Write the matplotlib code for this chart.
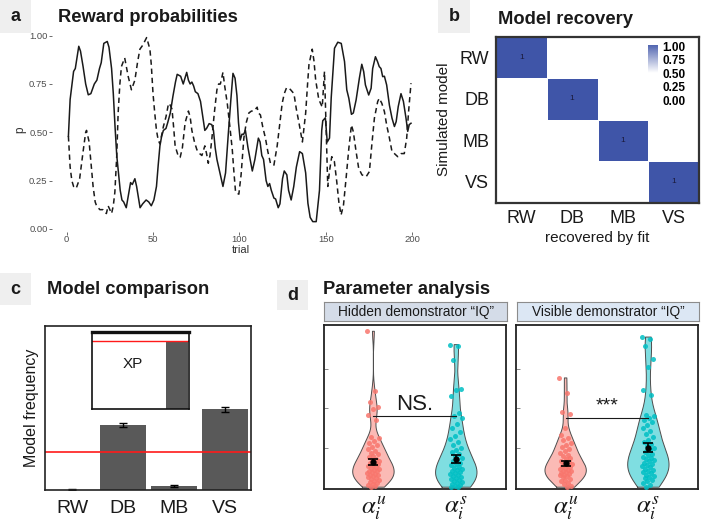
import numpy as np
import matplotlib
matplotlib.use("Agg")
import matplotlib.pyplot as plt
from matplotlib.patches import Rectangle
from matplotlib.colors import LinearSegmentedColormap

plt.rcParams['font.family'] = ['Liberation Sans', 'DejaVu Sans']
plt.rcParams['mathtext.fontset'] = 'stix'

# ---------------- data ----------------
# panel a: reward probabilities
trial_solid = [1, 2, 4, 5, 7, 8, 9.5, 11, 12.5, 14, 16, 17.5, 19, 20, 21.5, 23.5, 24.5, 26, 27, 28, 29, 30, 31, 32, 33, 34.5, 36, 37, 38, 39.5, 40.5, 42.5, 44, 46, 47.5, 49, 50.5, 52, 53, 54, 55, 56, 57.5, 58.5, 60, 61.5, 63, 64, 66, 67.5, 68.5, 69.5, 70.5, 71.5, 72.5, 73.5, 74.5, 76, 77.5, 79, 80, 81, 82.5, 84, 85, 86, 87, 88, 90.5, 92, 93.5, 95, 96.3, 97.5, 98.6, 99.5, 100.5, 101.5, 102.5, 103.5, 105, 107.5, 109, 111, 112, 113, 114, 115.5, 116.5, 117.5, 118.5, 120, 121, 122.5, 123.5, 125, 126, 127.5, 128.5, 130, 131.5, 133, 134.9, 136.5, 138.4, 139.7, 141, 142.5, 144.5, 146.4, 147.7, 148.3, 149.8, 150.9, 152.2, 153.2, 155.1, 157, 159, 160.9, 162.2, 163.4, 164.9, 166, 167.6, 169.5, 170.9, 172, 173, 174.9, 176.3, 177.2, 178.8, 180, 181, 182, 183, 184, 185.3, 186.9, 188.4, 189.8, 190.8, 192, 193.6, 195, 196.5, 197.5, 198.4, 199.4]
p_solid = [0.48, 0.67, 0.815, 0.83, 0.945, 0.92, 0.84, 0.75, 0.694, 0.70, 0.75, 0.77, 0.83, 0.86, 0.96, 0.97, 0.94, 0.83, 0.70, 0.53, 0.38, 0.29, 0.20, 0.15, 0.14, 0.11, 0.19, 0.24, 0.23, 0.26, 0.22, 0.11, 0.13, 0.15, 0.14, 0.12, 0.15, 0.22, 0.33, 0.43, 0.48, 0.51, 0.52, 0.55, 0.60, 0.685, 0.76, 0.80, 0.79, 0.75, 0.78, 0.81, 0.77, 0.75, 0.76, 0.74, 0.71, 0.70, 0.66, 0.57, 0.51, 0.52, 0.545, 0.54, 0.51, 0.42, 0.36, 0.32, 0.22, 0.29, 0.48, 0.66, 0.805, 0.78, 0.69, 0.55, 0.46, 0.49, 0.49, 0.51, 0.42, 0.30, 0.36, 0.47, 0.45, 0.38, 0.36, 0.25, 0.22, 0.235, 0.20, 0.16, 0.155, 0.11, 0.13, 0.26, 0.30, 0.28, 0.20, 0.15, 0.22, 0.32, 0.40, 0.39, 0.29, 0.133, 0.06, 0.038, 0.038, 0.20, 0.51, 0.56, 0.575, 0.45, 0.47, 0.68, 0.935, 0.966, 0.96, 0.866, 0.72, 0.676, 0.593, 0.60, 0.667, 0.78, 0.852, 0.814, 0.745, 0.693, 0.728, 0.83, 0.891, 0.866, 0.84, 0.83, 0.788, 0.79, 0.745, 0.64, 0.573, 0.53, 0.555, 0.633, 0.70, 0.66, 0.573, 0.505, 0.54, 0.547]
trial_dashed = [1, 2, 3, 4, 5.5, 7.5, 8.5, 9.5, 11, 11.5, 13, 14, 15.3, 16.5, 17.3, 19.2, 21, 22, 23, 24, 25, 26, 27, 27.9, 29, 29.8, 30.8, 31.7, 33.6, 35.6, 37.5, 39.5, 41, 42.4, 44, 46.3, 48.2, 49, 50, 51, 52, 53, 54, 56, 57.5, 59, 60, 61, 62, 62.8, 64.5, 65.7, 67, 68.6, 70.5, 71.5, 72.5, 74, 75.4, 77, 78.3, 80, 81, 82, 83, 84, 85.5, 87, 88, 89, 90.5, 91.5, 93, 94.5, 95.9, 96.8, 97.8, 99.7, 101, 102.6, 104, 105.5, 107, 108.4, 110.3, 111, 112.2, 113.5, 115.1, 116.5, 118, 120, 121.9, 123.5, 124.8, 126, 127.3, 128.5, 129.7, 131.6, 133, 134.5, 136.5, 138.4, 139.5, 140.3, 142.2, 143.2, 144.2, 146, 148, 149.3, 150.3, 151.2, 152.2, 153.5, 155, 156.4, 157.6, 158.9, 160.3, 161.8, 163.4, 164.9, 166, 167.6, 169.1, 171, 173.4, 175.3, 176.7, 178.2, 180.1, 181, 182.5, 184, 185.3, 186.9, 188.4, 189.8, 191.7, 193.6, 195.5, 196.9, 198, 199.4]
p_dashed = [0.48, 0.32, 0.25, 0.22, 0.21, 0.26, 0.33, 0.40, 0.50, 0.51, 0.45, 0.35, 0.22, 0.14, 0.12, 0.10, 0.10, 0.09, 0.08, 0.12, 0.10, 0.08, 0.12, 0.19, 0.38, 0.60, 0.75, 0.84, 0.885, 0.79, 0.72, 0.77, 0.86, 0.93, 0.95, 0.99, 0.93, 0.85, 0.70, 0.60, 0.51, 0.46, 0.44, 0.53, 0.58, 0.65, 0.64, 0.62, 0.52, 0.43, 0.38, 0.37, 0.42, 0.55, 0.61, 0.58, 0.51, 0.45, 0.41, 0.39, 0.38, 0.43, 0.39, 0.34, 0.38, 0.46, 0.60, 0.72, 0.75, 0.75, 0.81, 0.74, 0.65, 0.53, 0.41, 0.30, 0.19, 0.18, 0.28, 0.47, 0.55, 0.60, 0.61, 0.61, 0.63, 0.60, 0.59, 0.53, 0.47, 0.40, 0.34, 0.33, 0.43, 0.55, 0.65, 0.70, 0.73, 0.73, 0.72, 0.70, 0.62, 0.55, 0.45, 0.60, 0.75, 0.85, 0.93, 0.87, 0.77, 0.67, 0.63, 0.815, 0.50, 0.22, 0.30, 0.374, 0.35, 0.245, 0.14, 0.072, 0.124, 0.262, 0.417, 0.538, 0.503, 0.40, 0.314, 0.28, 0.27, 0.297, 0.435, 0.573, 0.659, 0.676, 0.65, 0.607, 0.538, 0.47, 0.40, 0.39, 0.374, 0.39, 0.39, 0.47, 0.607, 0.754]

# panel b: model recovery
models = ['RW', 'DB', 'MB', 'VS']
recovery = [[1, 0, 0, 0],
            [0, 1, 0, 0],
            [0, 0, 1, 0],
            [0, 0, 0, 1]]
legend_ticks = [0.00, 0.25, 0.50, 0.75, 1.00]

# panel c: model comparison
model_freq = [0.003, 0.431, 0.026, 0.535]
model_freq_err = [0.003, 0.015, 0.006, 0.015]
chance_level = 0.25
xp = [0.0, 0.01, 0.0, 1.0]
xp_line = 1.0

# panel d: parameter analysis
facets = ['Hidden demonstrator \u201cIQ\u201d', 'Visible demonstrator \u201cIQ\u201d']
param_labels = [r'$\alpha_i^u$', r'$\alpha_i^s$']
hidden_u = [0.787, 0.489, 0.433, 0.408, 0.397, 0.367, 0.342, 0.258, 0.25, 0.238, 0.225, 0.215, 0.205, 0.195, 0.186, 0.178, 0.17, 0.163, 0.155, 0.148, 0.14, 0.135, 0.13, 0.125, 0.12, 0.115, 0.11, 0.105, 0.1, 0.096, 0.092, 0.088, 0.084, 0.08, 0.076, 0.072, 0.068, 0.064, 0.06, 0.055, 0.05, 0.045, 0.04, 0.035, 0.03, 0.025, 0.02, 0.015, 0.01, 0.005]
hidden_s = [0.72, 0.715, 0.642, 0.5, 0.49, 0.463, 0.375, 0.36, 0.35, 0.32, 0.3, 0.28, 0.26, 0.245, 0.23, 0.215, 0.2, 0.19, 0.18, 0.17, 0.16, 0.15, 0.143, 0.135, 0.128, 0.12, 0.114, 0.107, 0.1, 0.095, 0.09, 0.085, 0.08, 0.075, 0.07, 0.065, 0.06, 0.055, 0.05, 0.045, 0.04, 0.035, 0.03, 0.025, 0.02, 0.016, 0.012, 0.008, 0.005]
visible_u = [0.553, 0.475, 0.383, 0.37, 0.30, 0.267, 0.25, 0.24, 0.225, 0.215, 0.205, 0.195, 0.185, 0.176, 0.168, 0.16, 0.152, 0.145, 0.138, 0.132, 0.126, 0.12, 0.115, 0.11, 0.105, 0.1, 0.096, 0.092, 0.088, 0.084, 0.08, 0.076, 0.072, 0.068, 0.064, 0.06, 0.054, 0.048, 0.042, 0.035, 0.028, 0.02, 0.012, 0.005]
visible_s = [0.758, 0.75, 0.713, 0.65, 0.608, 0.49, 0.467, 0.367, 0.36, 0.35, 0.34, 0.33, 0.315, 0.3, 0.285, 0.27, 0.255, 0.24, 0.23, 0.22, 0.21, 0.2, 0.19, 0.18, 0.172, 0.165, 0.158, 0.152, 0.146, 0.14, 0.134, 0.128, 0.122, 0.116, 0.11, 0.104, 0.098, 0.092, 0.086, 0.08, 0.074, 0.068, 0.062, 0.056, 0.05, 0.042, 0.035, 0.025, 0.015, 0.005]
hidden_means = [0.133, 0.147]
hidden_se = [0.015, 0.02]
visible_means = [0.125, 0.203]
visible_se = [0.012, 0.022]
sig_labels = ['NS.', '***']
sig_heights = [0.362, 0.35]

# ---------------- layout helpers ----------------
W, H = 701, 523
fig = plt.figure(figsize=(W / 100, H / 100), dpi=100)


def rect(l, t, r, b):
    return [l / W, 1 - b / H, (r - l) / W, (b - t) / H]


def ftext(x, y, s, **kw):
    fig.text(x / W, 1 - y / H, s, **kw)


def graybox(l, t, r, b, label):
    fig.add_artist(Rectangle((l / W, 1 - b / H), (r - l) / W, (b - t) / H,
                             transform=fig.transFigure, color='#efefef', zorder=0, lw=0))
    ftext((l + r) / 2, (t + b) / 2, label, ha='center', va='center',
          fontsize=13, fontweight='bold', color='#1a1a1a')


TITLE_KW = dict(fontsize=13.2, fontweight='bold', color='#1a1a1a', va='center', ha='left')

# ---------------- panel a ----------------
graybox(0, 0, 31, 33, 'a')
ftext(58, 18, 'Reward probabilities', **TITLE_KW)
axa = fig.add_axes(rect(52, 28.5, 430, 231.5))
axa.plot(trial_solid, p_solid, color='#1a1a1a', lw=1.1)
axa.plot(trial_dashed, p_dashed, color='#1a1a1a', lw=1.1, ls=(0, (3.5, 2.5)))
axa.set_xlim(-8.5, 210.4)
axa.set_ylim(-0.013, 1.037)
axa.set_xticks([0, 50, 100, 150, 200])
axa.set_yticks([0, 0.25, 0.5, 0.75, 1.0])
axa.set_yticklabels(['0.00', '0.25', '0.50', '0.75', '1.00'])
for s in axa.spines.values():
    s.set_visible(False)
axa.tick_params(length=2.2, width=0.5, color='#333333', labelsize=6.8, labelcolor='#4d4d4d', pad=1.0)
axa.tick_params(axis='x', pad=0.3)
axa.set_xlabel('trial', fontsize=8, color='#333333', labelpad=0.5)
axa.set_ylabel('p', fontsize=8.5, color='#333333')
axa.yaxis.set_label_coords(-0.068, 0.5)

# ---------------- panel b ----------------
graybox(438, 0, 470, 33, 'b')
ftext(498, 20, 'Model recovery', **TITLE_KW)
blue = '#3F55A8'
cmap = LinearSegmentedColormap.from_list('wb', ['#ffffff', blue])
axb = fig.add_axes(rect(496, 36.7, 699, 202.7))
mat = np.array(recovery, dtype=float)
axb.pcolormesh(np.arange(len(models) + 1), np.arange(len(models) + 1), mat,
               cmap=cmap, vmin=0.5, vmax=1.0, edgecolors='#ffffff', linewidth=0.6)
for i in range(len(models)):
    for j in range(len(models)):
        if mat[i, j] > 0:
            axb.text(j + 0.5, i + 0.5, f'{mat[i, j]:g}', ha='center', va='center',
                     fontsize=6, color='#1a1a3a')
axb.set_xlim(0, len(models))
axb.set_ylim(len(models), 0)
axb.set_xticks(np.arange(len(models)) + 0.5)
axb.set_yticks(np.arange(len(models)) + 0.5)
axb.set_xticklabels(models)
axb.set_yticklabels(models)
axb.tick_params(length=0, labelsize=13, pad=5, labelcolor='#1a1a1a')
for s in axb.spines.values():
    s.set_linewidth(1.6)
    s.set_color('#333333')
axb.set_xlabel('recovered by fit', fontsize=11, color='#1a1a1a', labelpad=3)
axb.set_ylabel('Simulated model', fontsize=11, color='#1a1a1a', labelpad=6)

# legend colour bar
axl = fig.add_axes(rect(648, 45, 658, 101.7))
grad = np.linspace(0.5, 1.0, 64)[:, None]
axl.imshow(grad, cmap=cmap, vmin=0.5, vmax=1.0, origin='lower', aspect='auto',
           extent=[0, 1, 0.5, 1.06])
axl.set_xlim(0, 1)
axl.set_ylim(-0.02, 1.02)
axl.set_xticks([])
axl.set_yticks(legend_ticks)
axl.set_yticklabels([f'{t:.2f}' for t in legend_ticks])
axl.yaxis.tick_right()
axl.tick_params(length=0, labelsize=8.5, pad=3)
for lab in axl.get_yticklabels():
    lab.set_fontweight('bold')
for s in axl.spines.values():
    s.set_visible(False)
axl.patch.set_alpha(0)

# ---------------- panel c ----------------
graybox(0, 273, 31, 305, 'c')
ftext(47, 290, 'Model comparison', **TITLE_KW)
axc = fig.add_axes(rect(45, 325.7, 250.7, 490))
xpos = np.arange(1, len(models) + 1)
axc.bar(xpos, model_freq, width=0.9, color='#595959')
axc.errorbar(xpos, model_freq, yerr=model_freq_err, fmt='none', ecolor='black',
             elinewidth=1.0, capsize=3, capthick=1.0)
axc.axhline(chance_level, color='#ff1a1a', lw=1.2)
axc.set_xlim(0.47, 4.5)
axc.set_ylim(0, 1.09)
axc.set_xticks(xpos)
axc.set_xticklabels(models)
axc.set_yticks([])
axc.tick_params(length=0, labelsize=14, pad=7, labelcolor='#1a1a1a')
for s in axc.spines.values():
    s.set_linewidth(1.2)
    s.set_color('#222222')
axc.set_ylabel('Model frequency', fontsize=11.5, color='#1a1a1a', labelpad=4)

axi = fig.add_axes(rect(91.7, 331.7, 189, 409.3))
axi.bar(xpos, xp, width=0.9, color='#595959')
axi.axhline(xp_line, color='#ff1a1a', lw=1.0)
axi.set_xlim(0.5, 4.5)
axi.set_ylim(0, 1.14)
axi.set_xticks([])
axi.set_yticks([])
for s in axi.spines.values():
    s.set_linewidth(1.2)
    s.set_color('#111111')
axi.spines['top'].set_linewidth(2.4)
axi.text(0.42, 0.58, 'XP', transform=axi.transAxes, ha='center', va='center',
         fontsize=11, color='#1a1a1a')

# ---------------- panel d ----------------
graybox(277, 280, 308, 310, 'd')
ftext(323, 290, 'Parameter analysis', **TITLE_KW)

red = '#F8766D'
cyan = '#00BFC4'


def kde(vals):
    v = np.asarray(vals, dtype=float)
    n = len(v)
    sd = v.std(ddof=1)
    q75, q25 = np.percentile(v, [75, 25])
    bw = 0.9 * min(sd, (q75 - q25) / 1.34) * n ** -0.2
    grid = np.linspace(v.min(), v.max(), 300)
    dens = np.exp(-0.5 * ((grid[:, None] - v[None, :]) / bw) ** 2).sum(axis=1)
    return grid, dens / dens.max()


panel_data = [(hidden_u, hidden_s, hidden_means, hidden_se),
              (visible_u, visible_s, visible_means, visible_se)]
panel_x = [(323.7, 506), (516, 698)]
strip_colors = ['#d4dce8', '#dce7f4']

for k, ((du, ds, mns, ses), (l, r)) in enumerate(zip(panel_data, panel_x)):
    # strip
    axs = fig.add_axes(rect(l + 0.5, 301.7, r + 1.5, 320.7))
    axs.set_facecolor(strip_colors[k])
    axs.set_xticks([])
    axs.set_yticks([])
    for s in axs.spines.values():
        s.set_color('#8c8c8c')
        s.set_linewidth(0.8)
    axs.text(0.5, 0.45, facets[k], transform=axs.transAxes, ha='center', va='center',
             fontsize=9.9, color='#1a1a1a')

    ax = fig.add_axes(rect(l, 324.7, r, 489))
    for pos, vals, col in [(1, du, red), (2, ds, cyan)]:
        g, d = kde(vals)
        half = 0.25
        ax.fill_betweenx(g, pos - half * d, pos + half * d, facecolor=col, alpha=0.5,
                         edgecolor='none', zorder=1)
        ax.plot(np.r_[pos - half * d, (pos + half * d)[::-1], pos - half * d[0]],
                np.r_[g, g[::-1], g[0]], color='#4d4d4d', lw=0.7, zorder=2)
        n = len(vals)
        jit = ((np.arange(n) * 0.6180339887) % 1 - 0.5) * 0.15
        ax.scatter(pos + jit, vals, s=13, color=col, alpha=0.85, linewidths=0, zorder=3)
    ax.errorbar([1, 2], mns, yerr=ses, fmt='o', color='black', ms=3.5,
                elinewidth=1.2, capsize=3.5, capthick=1.2, zorder=5)
    h = sig_heights[k]
    ax.plot([1, 2], [h, h], color='#1a1a1a', lw=0.8, zorder=4)
    if sig_labels[k] == 'NS.':
        ax.text(1.5, h + 0.005, sig_labels[k], ha='center', va='bottom', fontsize=16, color='#1a1a1a')
    else:
        ax.text(1.5, h + 0.02, sig_labels[k], ha='center', va='bottom', fontsize=14, color='#1a1a1a')
    ax.set_xlim(0.4, 2.6)
    ax.set_ylim(-0.004, 0.82)
    ax.set_xticks([1, 2])
    ax.set_xticklabels(param_labels)
    ax.set_yticks([0.2, 0.4, 0.6])
    ax.set_yticklabels([])
    ax.tick_params(axis='y', direction='in', length=3, width=0.6, color='#777777')
    ax.tick_params(axis='x', length=0, labelsize=18, pad=4, labelcolor='#1a1a1a')
    for s in ax.spines.values():
        s.set_linewidth(1.3)
        s.set_color('#222222')

fig.savefig('out.png', dpi=100)
